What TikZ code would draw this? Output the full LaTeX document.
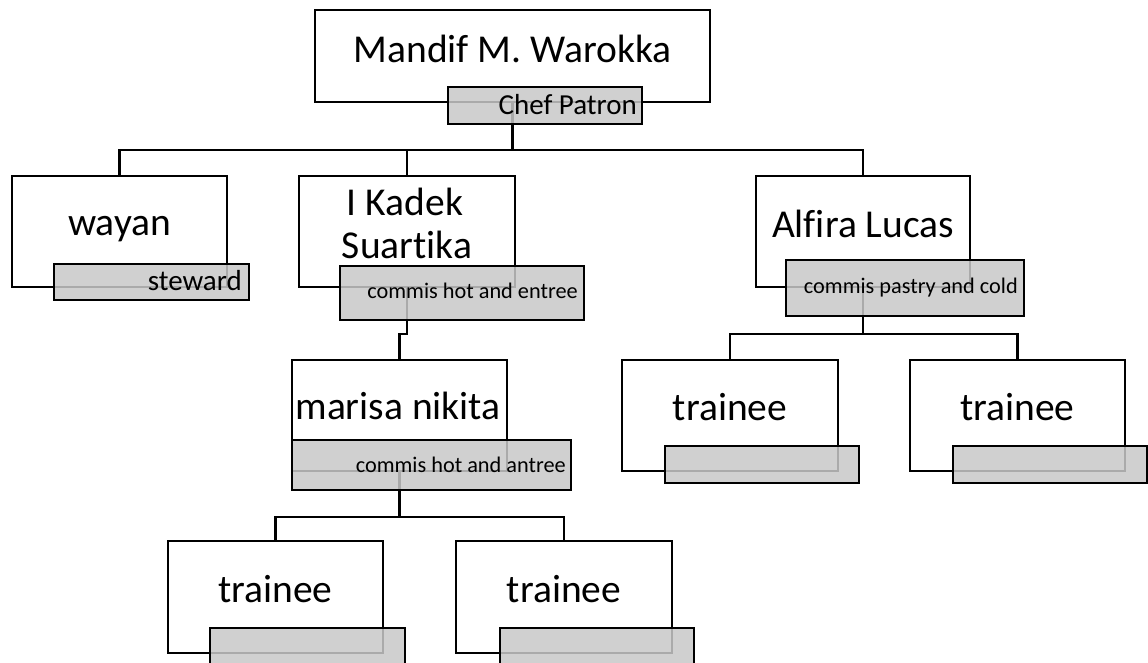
\documentclass[tikz,border=0pt]{standalone}
\usepackage{fontspec}
\setmainfont{Carlito}[Ligatures=NoCommon]
\tikzset{
  namebox/.style={draw=black, line width=2.4pt, fill=white, inner sep=0pt, rectangle},
  rolebox/.style={draw=black, line width=2.4pt, fill={rgb,255:red,200;green,200;blue,200}, fill opacity=0.85, draw opacity=1, text opacity=1, inner sep=0pt, rectangle},
  conn/.style={draw=black, line width=2.4pt},
  nametext/.style={inner sep=0pt, anchor=base, font=\fontsize{39.5}{43}\selectfont},
  roletext/.style={inner sep=0pt, anchor=base east, font=\fontsize{29}{33}\selectfont},
  roletextsmall/.style={inner sep=0pt, anchor=base east, font=\fontsize{22.3}{26}\selectfont},
}
\begin{document}
\begin{tikzpicture}[x=1pt, y=-1pt]
\useasboundingbox (0,0) rectangle (1148,663);
% white boxes
\node[namebox, minimum width=395pt, minimum height=92pt] (top) at (512.5,56) {};
\node[namebox, minimum width=215pt, minimum height=111pt] (wayan) at (119.5,231.5) {};
\node[namebox, minimum width=216pt, minimum height=111pt] (kadek) at (407,231.5) {};
\node[namebox, minimum width=214pt, minimum height=111pt] (alfira) at (863,231.5) {};
\node[namebox, minimum width=215pt, minimum height=111pt] (marisa) at (399.5,415.5) {};
\node[namebox, minimum width=216pt, minimum height=111pt] (tr1) at (730,415.5) {};
\node[namebox, minimum width=215pt, minimum height=111pt] (tr2) at (1017.5,415.5) {};
\node[namebox, minimum width=215pt, minimum height=112pt] (tr3) at (275.5,597) {};
\node[namebox, minimum width=216pt, minimum height=112pt] (tr4) at (564,597) {};
% connectors
\draw[conn] (top.south) -- ++(0,47) coordinate (j0);
\draw[conn] (j0) -| (wayan.north);
\draw[conn] (j0) -| (kadek.north);
\draw[conn] (j0) -| (alfira.north);
\draw[conn] (kadek.south) -- ++(0,46) -| (marisa.north);
\draw[conn] (alfira.south) -- ++(0,46) coordinate (j2);
\draw[conn] (j2) -| (tr1.north);
\draw[conn] (j2) -| (tr2.north);
\draw[conn] (marisa.south) -- ++(0,45) coordinate (j3);
\draw[conn] (j3) -| (tr3.north);
\draw[conn] (j3) -| (tr4.north);
% role boxes
\node[rolebox, minimum width=194pt, minimum height=37pt] (chef) at (545,105.5) {};
\node[rolebox, minimum width=195pt, minimum height=36pt] (stew) at (151.5,282) {};
\node[rolebox, minimum width=244pt, minimum height=54pt] (kadekr) at (462,293) {};
\node[rolebox, minimum width=238pt, minimum height=56pt] (alfirar) at (905,288) {};
\node[rolebox, minimum width=279pt, minimum height=50pt] (marisar) at (431.5,465) {};
\node[rolebox, minimum width=194pt, minimum height=37pt] (tr1r) at (762,464.5) {};
\node[rolebox, minimum width=194pt, minimum height=37pt] (tr2r) at (1050,464.5) {};
\node[rolebox, minimum width=195pt, minimum height=39pt] (tr3r) at (307.5,647.5) {};
\node[rolebox, minimum width=194pt, minimum height=39pt] (tr4r) at (597,647.5) {};
% texts
\node[nametext] (topt) at (512.5,63) {Mandif M. Warokka};
\node[roletext] (chieft) at (637,115) {Chef Patron};
\node[nametext] (wayant) at (119.5,236) {wayan};
\node[roletext] (stewt) at (242,290) {steward};
\node[nametext] (kadekt1) at (405,215) {I Kadek};
\node[nametext] (kadekt2) at (407,258) {Suartika};
\node[roletextsmall] (kadekrt) at (578,298) {commis hot and entree};
\node[nametext] (alfirat) at (863,237) {Alfira Lucas};
\node[roletextsmall] (alfirart) at (1018,293) {commis pastry and cold};
\node[nametext] (marisat) at (398,419) {marisa nikita};
\node[roletextsmall] (marisart) at (566,472) {commis hot and antree};
\node[nametext] (tr1t) at (730,420) {trainee};
\node[nametext] (tr2t) at (1017.5,420) {trainee};
\node[nametext] (tr3t) at (275.5,602) {trainee};
\node[nametext] (tr4t) at (564,602) {trainee};
\end{tikzpicture}
\end{document}
